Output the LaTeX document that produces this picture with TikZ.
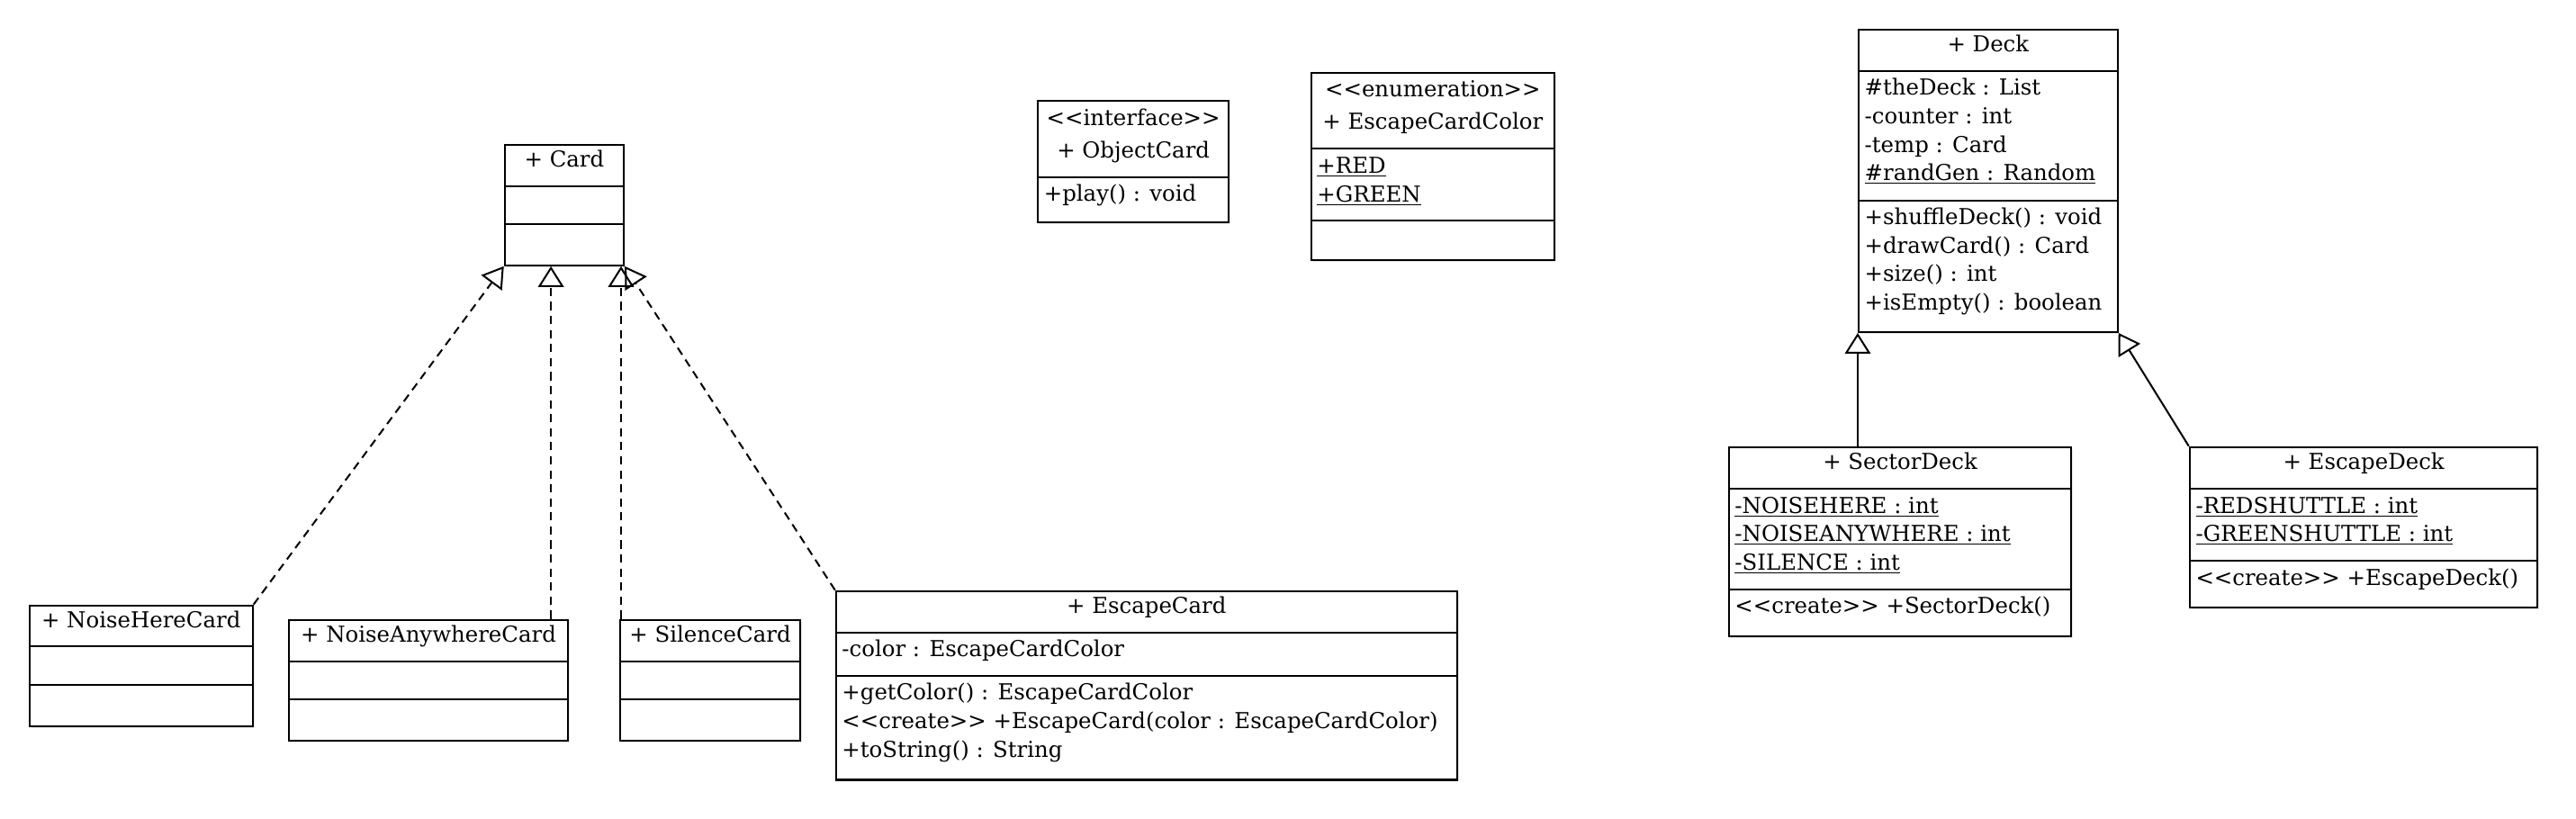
\documentclass[tikz,border=0pt]{standalone}
\usepackage{fontspec}
\setmainfont{DejaVu Serif}
\usetikzlibrary{arrows.meta}
\newcount\tcnt
\newcommand\stereo[1]{<\kern0pt<#1>\kern0pt>}
\tikzset{
  x=1pt, y=-1pt,
  umlbox/.style={draw, line width=1.15pt, fill=white, inner sep=0pt},
  boxshadow/.style={fill=black!9},
  txt/.style={inner sep=0pt, font=\fontsize{13.3}{16}\selectfont, text height=9.6pt, text depth=3pt},
  realize/.style={line width=1.1pt, dash pattern=on 5pt off 3.5pt, -{Triangle[open, length=12.5pt, width=15.5pt]}},
  inherit/.style={line width=1.1pt, -{Triangle[open, length=12.5pt, width=15.5pt]}},
}
\newcommand\cls[5]{%
  \fill[boxshadow] (#2+1.6,#3+1.6) rectangle ++(#4,#5);
  \node[umlbox, minimum width=#4, minimum height=#5, anchor=north west] (#1) at (#2,#3) {};}
\newcommand\hdiv[2]{\draw[line width=1.15pt] ([yshift=-#2pt]#1.north west) -- ([yshift=-#2pt]#1.north east);}
\newcommand\lt[3]{\global\advance\tcnt by 1
  \node[txt, anchor=west] (t\the\tcnt) at ([xshift=4pt,yshift=-#2pt]#1.north west) {#3};}
\newcommand\ct[3]{\global\advance\tcnt by 1
  \node[txt] (t\the\tcnt) at ([yshift=-#2pt]#1.north) {#3};}
\begin{document}
\begin{tikzpicture}
\useasboundingbox[fill=white] (0,0) rectangle (1560,496);

% Card
\cls{card}{305.1}{87}{72.1}{73.1}
\ct{card}{10.7}{+ Card}
\hdiv{card}{25.8}\hdiv{card}{48.5}

% NoiseHereCard
\cls{nhc}{17.3}{366.1}{135.1}{73.2}
\ct{nhc}{10.7}{+ NoiseHereCard}
\hdiv{nhc}{25.4}\hdiv{nhc}{48.7}

% NoiseAnywhereCard
\cls{nac}{174.2}{374.8}{169.4}{73.3}
\ct{nac}{10.7}{+ NoiseAnywhereCard}
\hdiv{nac}{25.7}\hdiv{nac}{48.7}

% SilenceCard
\cls{sil}{375}{374.8}{109}{73.3}
\ct{sil}{10.7}{+ SilenceCard}
\hdiv{sil}{25.7}\hdiv{sil}{48.7}

% EscapeCard
\cls{esc}{505.7}{357.4}{376.1}{114.3}
\ct{esc}{10.7}{+ EscapeCard}
\hdiv{esc}{25.6}
\lt{esc}{36.8}{-color : EscapeCardColor}
\hdiv{esc}{52}
\lt{esc}{63.2}{+getColor() : EscapeCardColor}
\lt{esc}{80.5}{\stereo{create} +EscapeCard(color : EscapeCardColor)}
\lt{esc}{97.8}{+toString() : String}

% ObjectCard
\cls{obj}{628}{60.7}{115.5}{73.3}
\ct{obj}{11.8}{\stereo{interface}}
\ct{obj}{31.6}{+ ObjectCard}
\hdiv{obj}{46.8}
\lt{obj}{57.7}{+play() : void}

% EscapeCardColor
\cls{ecc}{793.5}{43.5}{147.2}{113.3}
\ct{ecc}{11.8}{\stereo{enumeration}}
\ct{ecc}{31.6}{+ EscapeCardColor}
\hdiv{ecc}{46.5}
\lt{ecc}{58.1}{\underline{+RED}}
\lt{ecc}{75.4}{\underline{+GREEN}}
\hdiv{ecc}{89.8}

% Deck
\cls{deck}{1125}{17.3}{156.8}{183.2}
\ct{deck}{10.6}{+ Deck}
\hdiv{deck}{25.8}
\lt{deck}{37}{\#theDeck : List}
\lt{deck}{54.3}{-counter : int}
\lt{deck}{71.6}{-temp : Card}
\lt{deck}{88.9}{\underline{\#randGen : Random}}
\hdiv{deck}{104.1}
\lt{deck}{115.3}{+shuffleDeck() : void}
\lt{deck}{132.6}{+drawCard() : Card}
\lt{deck}{149.9}{+size() : int}
\lt{deck}{167.2}{+isEmpty() : boolean}

% SectorDeck
\cls{sec}{1046.4}{270.2}{207.4}{114.6}
\ct{sec}{10.7}{+ SectorDeck}
\hdiv{sec}{25.6}
\lt{sec}{37.2}{\underline{-NOISEHERE : int}}
\lt{sec}{54.5}{\underline{-NOISEANYWHERE : int}}
\lt{sec}{71.9}{\underline{-SILENCE : int}}
\hdiv{sec}{86.7}
\lt{sec}{98.1}{\stereo{create} +SectorDeck()}

% EscapeDeck
\cls{edk}{1325.5}{270.2}{210.7}{97}
\ct{edk}{10.7}{+ EscapeDeck}
\hdiv{edk}{25.6}
\lt{edk}{37.2}{\underline{-REDSHUTTLE : int}}
\lt{edk}{54.5}{\underline{-GREENSHUTTLE : int}}
\hdiv{edk}{69.6}
\lt{edk}{80.8}{\stereo{create} +EscapeDeck()}

% connectors
\coordinate (naTop) at ([xshift=-11.1pt]nac.north east);
\coordinate (silTop) at ([xshift=1.1pt]sil.north west);
\draw[realize] (nhc.north east) -- (card.south west);
\draw[realize] (naTop) -- (naTop |- card.south);
\draw[realize] (silTop) -- (silTop |- card.south);
\draw[realize] (esc.north west) -- (card.south east);
\draw[inherit] (deck.south west |- sec.north) -- (deck.south west);
\draw[inherit] (edk.north west) -- (deck.south east);
\end{tikzpicture}
\end{document}
